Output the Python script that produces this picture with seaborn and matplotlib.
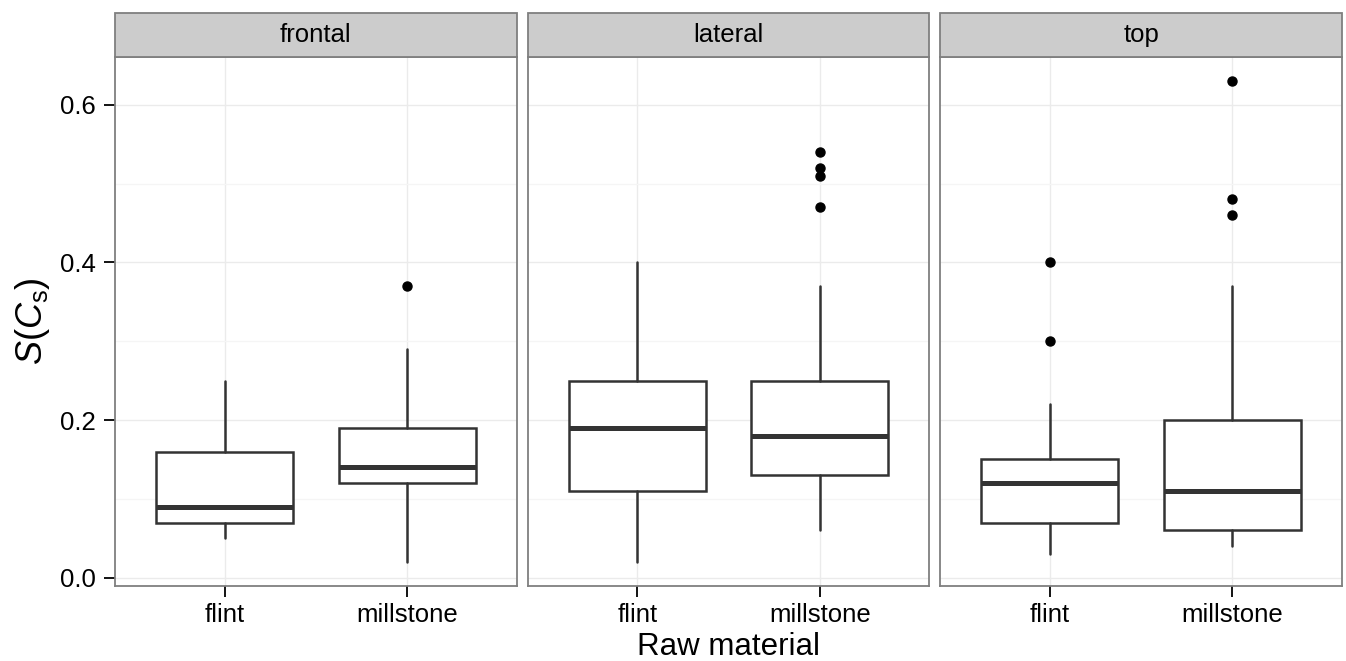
import matplotlib
matplotlib.use("Agg")
import matplotlib.pyplot as plt
from matplotlib.patches import Rectangle
import numpy as np
import pandas as pd
import seaborn as sns

# summary stats (one entry per view x material)
views = ["frontal", "frontal", "lateral", "lateral", "top", "top"]
materials = ["flint", "millstone", "flint", "millstone", "flint", "millstone"]
whislo = [0.05, 0.02, 0.02, 0.06, 0.03, 0.04]
q1 = [0.07, 0.12, 0.11, 0.13, 0.07, 0.06]
med = [0.09, 0.14, 0.19, 0.18, 0.12, 0.11]
q3 = [0.16, 0.19, 0.25, 0.25, 0.15, 0.20]
whishi = [0.25, 0.29, 0.40, 0.37, 0.22, 0.37]
fliers = [[], [0.37], [], [0.47, 0.51, 0.52, 0.54], [0.30, 0.40], [0.46, 0.48, 0.63]]

material_order = ["flint", "millstone"]
view_order = ["frontal", "lateral", "top"]
yticks = [0.0, 0.2, 0.4, 0.6]
ytick_labels = ["0.0", "0.2", "0.4", "0.6"]

df = pd.DataFrame({"view": views, "material": materials, "whislo": whislo,
                   "q1": q1, "med": med, "q3": q3, "whishi": whishi,
                   "fliers": fliers})

sns.set_theme(style="whitegrid")
plt.rcParams['font.family'] = ['Liberation Sans', 'DejaVu Sans']
plt.rcParams['mathtext.fontset'] = 'custom'
plt.rcParams['mathtext.it'] = 'Liberation Sans:italic'
plt.rcParams['mathtext.rm'] = 'Liberation Sans'

W, H = 1346, 661
line_col = "#333333"


def draw_boxes(data, **kws):
    ax = plt.gca()
    stats = []
    pos = []
    for _, r in data.iterrows():
        stats.append(dict(whislo=r.whislo, q1=r.q1, med=r.med, q3=r.q3,
                          whishi=r.whishi, fliers=r.fliers))
        pos.append(material_order.index(r.material) + 1)
    ax.bxp(stats, positions=pos, widths=0.75, showcaps=False, patch_artist=True,
           boxprops=dict(facecolor="white", edgecolor=line_col, linewidth=1.8),
           medianprops=dict(color=line_col, linewidth=3.6, solid_capstyle="butt"),
           whiskerprops=dict(color=line_col, linewidth=1.8),
           flierprops=dict(marker="o", markerfacecolor="black",
                           markeredgecolor="black", markersize=6.5),
           zorder=3)


g = sns.FacetGrid(df, col="view", col_order=view_order,
                  sharey=True, despine=False)
g.map_dataframe(draw_boxes)
fig = g.figure
fig.set_size_inches(W / 100, H / 100)
fig.set_dpi(100)
fig.subplots_adjust(left=115 / W, right=1342 / W, bottom=1 - 586 / H,
                    top=1 - 57 / H, wspace=11 / 402)

for ax, name in zip(g.axes.flat, view_order):
    ax.set_title("")
    ax.set_xlabel("")
    ax.set_ylabel("")
    ax.set_xlim(0.4, 2.6)
    ax.set_ylim(-0.0105, 0.6605)
    ax.set_xticks([1, 2])
    ax.set_xticklabels(material_order)
    ax.set_yticks(yticks)
    ax.set_yticks([0.1, 0.3, 0.5], minor=True)
    ax.grid(True, which="major", color="#ebebeb", linewidth=1.0)
    ax.grid(True, which="minor", axis="y", color="#f5f5f5", linewidth=1.0)
    ax.set_facecolor("white")
    for s in ax.spines.values():
        s.set_color("#7f7f7f")
        s.set_linewidth(1.3)
    ax.tick_params(axis="both", which="major", length=8, width=1.3,
                   color="black", labelsize=18.5, labelcolor="black", pad=4,
                   bottom=True, left=True)
    ax.tick_params(axis="y", which="major", pad=6)
    ax.tick_params(axis="y", which="minor", length=0)
    ax.set_axisbelow(True)
    # facet strip
    ax.add_patch(Rectangle((0, 1.0), 1, 44 / 529, transform=ax.transAxes,
                           facecolor="#cccccc", edgecolor="#7f7f7f",
                           linewidth=1.3, clip_on=False, zorder=5))
    ax.text(0.5, 1 + 22 / 529, name, transform=ax.transAxes, ha="center",
            va="center", fontsize=18.5, color="black", zorder=6)

g.axes.flat[0].set_yticklabels(ytick_labels)
for ax in g.axes.flat[1:]:
    ax.tick_params(axis="y", which="major", left=False, labelleft=False)

fig.text(728.5 / W, 1 - 655 / H, "Raw material", ha="center", va="baseline",
         fontsize=22.5, color="black")
fig.text(32 / W, 1 - 321 / H, r"$S(C_{\mathrm{s}})$", ha="center", va="center",
         rotation=90, fontsize=26, color="black")

fig.savefig("out.png", dpi=100)
